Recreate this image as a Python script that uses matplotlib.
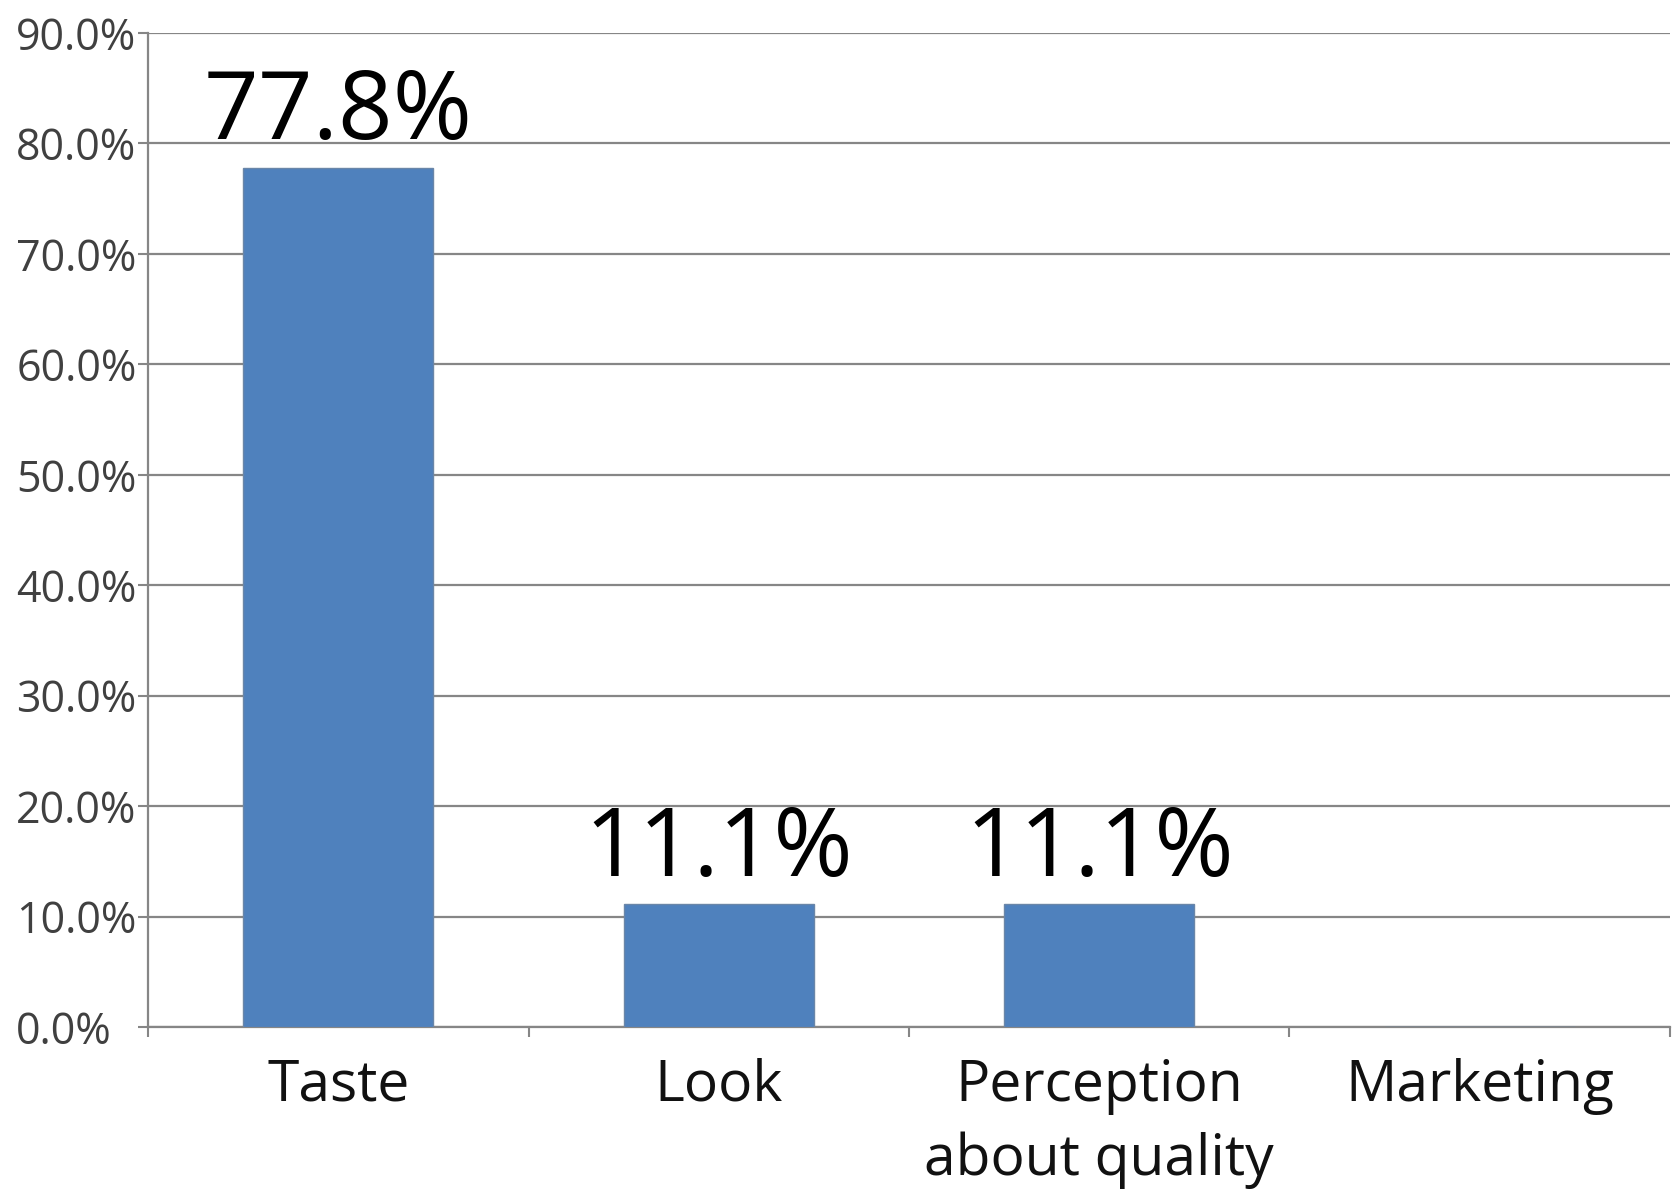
import matplotlib
matplotlib.use("Agg")
import matplotlib.pyplot as plt
from matplotlib.ticker import PercentFormatter

# survey shares
categories = ["Taste", "Look", "Perception\nabout quality", "Marketing"]
shares = [77.8, 11.1, 11.1, 0.0]
labels = ["77.8%", "11.1%", "11.1%", ""]

plt.rcParams['font.family'] = ['Open Sans', 'DejaVu Sans']

fig = plt.figure(figsize=(16.77, 11.91), dpi=100)
ax = fig.add_axes([0.0883, 0.1377, 0.9075, 0.8346])

x = range(len(categories))
bars = ax.bar(x, shares, width=0.5, color='#4f81bd', edgecolor='#6a86a8',
              linewidth=1.0, zorder=3)

for b, txt in zip(bars, labels):
    if txt:
        ax.annotate(txt, (b.get_x() + b.get_width() / 2, b.get_height()),
                    xytext=(0, 4), textcoords='offset points',
                    ha='center', va='bottom', fontsize=69, color='black')

ax.set_xlim(-0.5, len(categories) - 0.5)
ax.set_ylim(0, 90)
ax.set_yticks(range(0, 91, 10))
ax.yaxis.set_major_formatter(PercentFormatter(decimals=1))
ax.grid(axis='y', color='#868686', linewidth=1.6, zorder=0)

# category labels sit between boundary ticks, like the spreadsheet chart
ax.set_xticks([i - 0.5 for i in range(len(categories) + 1)])
ax.set_xticklabels([])
ax.set_xticks(list(x), minor=True)
ax.set_xticklabels(categories, minor=True, fontsize=41, color='#111111',
                   linespacing=1.4)
ax.tick_params(axis='x', which='minor', length=0, pad=22)
ax.tick_params(axis='x', which='major', length=7, width=1.5, color='#868686')
ax.tick_params(axis='y', length=7, width=1.5, color='#868686',
               labelsize=31, labelcolor='#404040', pad=88)
# y labels are left-aligned in the original
for t in ax.get_yticklabels():
    t.set_horizontalalignment('left')

for s in ['top', 'right']:
    ax.spines[s].set_visible(False)
for s in ['left', 'bottom']:
    ax.spines[s].set_color('#868686')
    ax.spines[s].set_linewidth(1.6)

fig.savefig("out.png", dpi=100)
